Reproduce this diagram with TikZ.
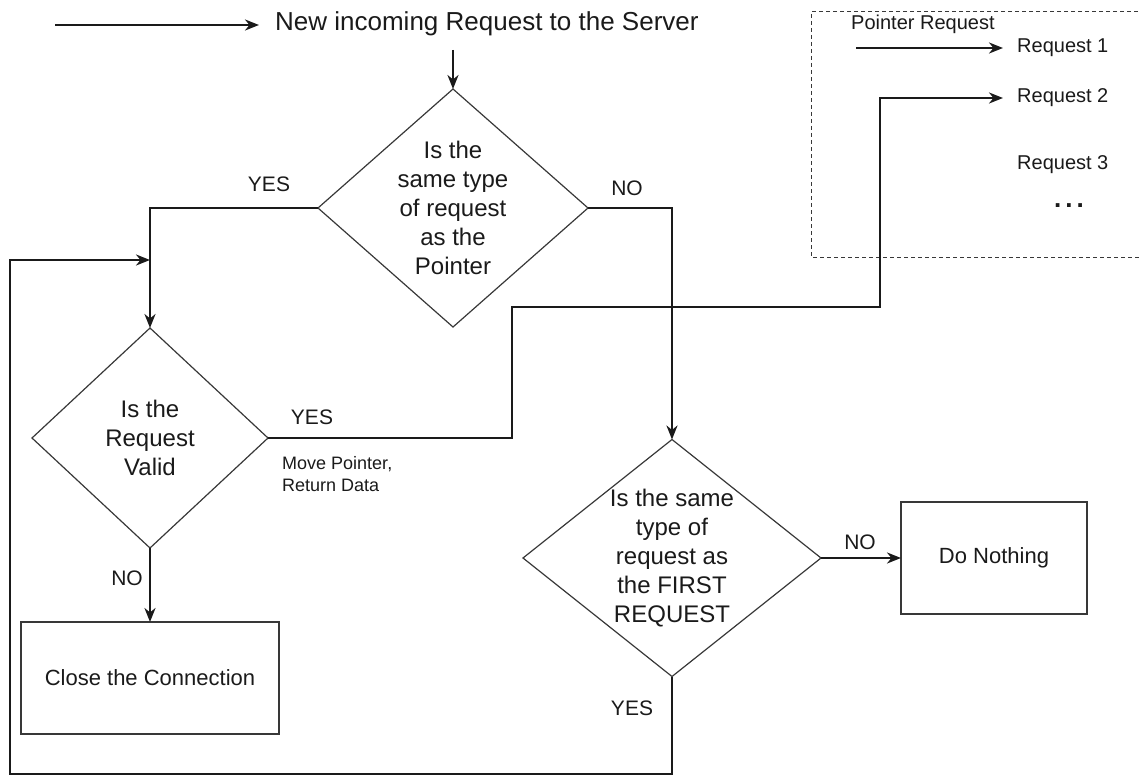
\documentclass[tikz,border=0pt]{standalone}
\usepackage{fontspec}
\setmainfont{Liberation Sans}
\usetikzlibrary{arrows.meta,shapes.geometric}
\definecolor{ink}{HTML}{1A1A1A}
\definecolor{edge}{HTML}{383838}

\begin{document}
\begin{tikzpicture}[x=1pt,y=-1pt,
  conn/.style={draw=ink, line width=2.5pt, -{Stealth[length=14pt,width=11pt,inset=4.5pt]}},
  decision/.style={diamond, draw=edge, line width=1.2pt, inner sep=0pt, outer sep=0pt},
  qtext/.style={font=\fontsize{24}{28.8}\selectfont, align=center, text=ink, inner sep=0pt},
  action/.style={rectangle, draw=edge, line width=1.6pt, font=\fontsize{22}{26}\selectfont,
    text=ink, inner sep=0pt, outer sep=0pt},
  tag/.style={font=\fontsize{21}{25}\selectfont, text=ink, inner sep=0pt},
  legtext/.style={font=\fontsize{20}{24}\selectfont, text=ink, inner sep=0pt, anchor=west},
]
\useasboundingbox (0,0) rectangle (1141,776);

% incoming request
\node[font=\fontsize{26}{30}\selectfont, text=ink, inner sep=0pt, anchor=west]
  (title) at (275,24) {New incoming Request to the Server};
\coordinate (src) at (55,25);
\draw[conn, shorten >=16pt] (src) -- (src -| title.west);

% decisions
\node[decision, minimum width=270pt, minimum height=238pt] (q1) at (453,208) {};
\node[qtext] (q1t) at (q1.center) {Is the\\same type\\of request\\as the\\Pointer};

\node[decision, minimum width=236pt, minimum height=220pt] (q2) at (150,438) {};
\node[qtext] (q2t) at (q2.center) {Is the\\Request\\Valid};

\node[decision, minimum width=298pt, minimum height=237pt] (q3) at (672,558) {};
\node[qtext] (q3t) at (q3.center) {Is the same\\type of\\request as\\the FIRST\\REQUEST};

% actions
\node[action, minimum width=258pt, minimum height=112pt] (close) at (150,678) {Close the Connection};
\node[action, minimum width=186pt, minimum height=112pt] (nothing) at (994,558) {Do Nothing};

% request queue
\draw[draw=edge, line width=1pt, dash pattern=on 4pt off 3pt]
  (1145,12) -- (811,12) -- (811,257) -- (1145,257);
\node[legtext] (ptrlbl) at (851,24) {Pointer Request};
\node[legtext] (req1) at (1017,48) {Request 1};
\node[legtext] (req2) at (1017,98) {Request 2};
\node[legtext] (req3) at (1017,165) {Request 3};
\node[font=\fontsize{26}{30}\selectfont\bfseries, text=ink, inner sep=0pt]
  (more) at (1069,206) {.\kern4pt.\kern4pt.};
\coordinate (ptr) at (856,48);
\draw[conn, shorten >=14pt] (ptr) -- (req1.west);

% connectors
\coordinate (inarr) at (453,50);
\draw[conn] (inarr) -- (q1.north);
\draw[conn] (q1.west) -| (q2.north);
\draw[conn] (q1.east) -| (q3.north);
\draw[conn] (q2.south) -- (close.north);
\draw[conn] (q3.east) -- (nothing.west);

\coordinate (m1) at (512,307);
\coordinate (m2) at (880,98);
\draw[conn, shorten >=14pt] (q2.east) -| (m1) -| (m2) -- (req2.west);

\coordinate (lp) at (10,774);
\coordinate (join) at (150,260);
\draw[conn] (q3.south) |- (lp) |- (join);

% branch labels
\node[tag] (y1) at (269,184) {YES};
\node[tag] (n1) at (627,188) {NO};
\node[tag] (y2) at (312,417) {YES};
\node[tag] (n2) at (127,578) {NO};
\node[tag] (n3) at (860,542) {NO};
\node[tag] (y3) at (632,708) {YES};
\node[font=\fontsize{18}{22}\selectfont, text=ink, inner sep=0pt, anchor=west, align=left]
  (mv) at (282,474) {Move Pointer,\\Return Data};
\end{tikzpicture}
\end{document}
